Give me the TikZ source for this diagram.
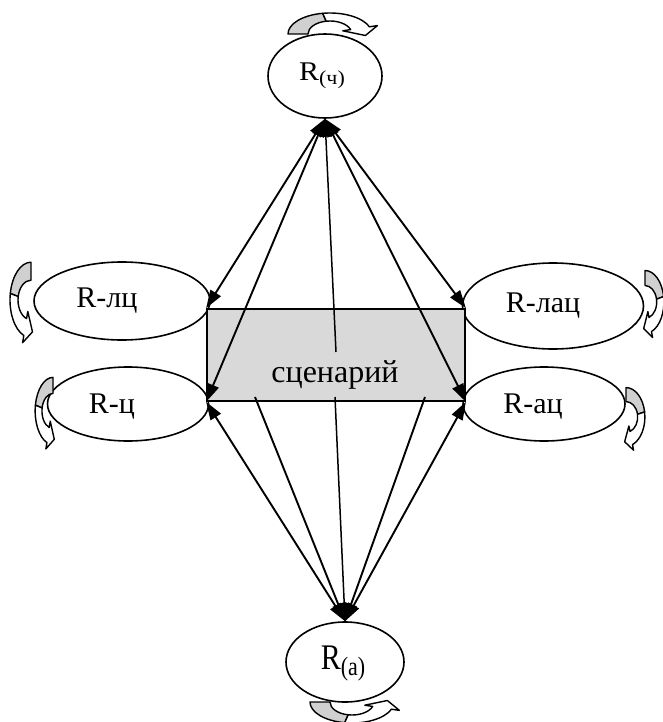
\documentclass[tikz,border=0pt]{standalone}
\usepackage{fontspec}
\usepackage{graphicx}
\setmainfont{Liberation Serif}
\usetikzlibrary{shapes.geometric,arrows.meta}
\definecolor{cg}{RGB}{208,208,208}
\definecolor{sg}{RGB}{217,217,217}
\tikzset{
  curlyarrow/.pic={
    \filldraw[fill=cg, line width=1.4pt, line join=round]
      (-42,0) arc[start angle=180,end angle=100,x radius=42,y radius=21]
      -- ({22*cos(100)},{13*sin(100)})
      arc[start angle=100,end angle=180,x radius=22,y radius=13] -- cycle;
    \filldraw[fill=white, line width=1.4pt, line join=round]
      ({42*cos(100)},{21*sin(100)})
      arc[start angle=100,end angle=20,x radius=42,y radius=21]
      -- (47.4,8.4) -- (35.4,-1.5) -- (12.8,3.2)
      -- ({22*cos(20)},{13*sin(20)})
      arc[start angle=20,end angle=100,x radius=22,y radius=13] -- cycle;
  }
}
\begin{document}
\begin{tikzpicture}[x=1pt,y=1pt,
  ell/.style={draw, ellipse, line width=1.6pt, fill=white, inner sep=0pt},
  scen/.style={draw, rectangle, line width=1.7pt, fill=sg, inner sep=0pt},
  lbl/.style={inner sep=0pt, font=\fontsize{30}{32}\selectfont},
  con/.style={line width=1.9pt},
  dbl/.style={{Triangle[length=18pt,width=12pt]}-{Triangle[length=18pt,width=12pt]}},
  one/.style={-{Triangle[length=18pt,width=12pt]}}
]
\useasboundingbox (0,0) rectangle (662,-722);

% ellipses
\node[ell, minimum width=114pt, minimum height=84pt] (Rch) at (325,-76) {};
\node[ell, minimum width=176pt, minimum height=78pt] (Rlc) at (122,-301) {};
\node[ell, minimum width=161pt, minimum height=74pt] (Rc) at (128,-404) {};
\node[ell, minimum width=181pt, minimum height=86pt] (Rlac) at (553,-306) {};
\node[ell, minimum width=162pt, minimum height=74pt] (Rac) at (544,-404) {};
\node[ell, minimum width=118pt, minimum height=80pt] (Ra) at (345,-662) {};

% scenario box
\node[scen, minimum width=258pt, minimum height=92pt] (sc) at (336,-355) {};
\node[inner sep=0pt, font=\fontsize{32}{34}\selectfont] (sct) at (335,-375) {сценарий};

% labels
\node[lbl] (tch) at (322,-76) {\scalebox{1}[0.9]{R\raisebox{-5pt}{\fontsize{22}{22}\selectfont(ч)}}};
\node[lbl] (tlc) at (107,-301) {R-лц};
\node[lbl] (tc) at (112,-407) {R-ц};
\node[lbl] (tlac) at (543,-306) {R-лац};
\node[lbl] (tac) at (533,-407) {R-ац};
\node[lbl] (ta) at (343,-664) {\scalebox{1}[1.2]{R\raisebox{-5pt}{\fontsize{22}{22}\selectfont(а)}}};

% free ends inside the box
\coordinate (m1) at (336,-352);
\coordinate (b1) at (255,-397);
\coordinate (b2) at (335,-397);
\coordinate (b3) at (425,-397);

% connectors to R(ch)
\draw[con,dbl] (sc.north west) -- (Rch.south);
\draw[con,dbl] (sc.south west) -- (Rch.south);
\draw[con,one,line width=1.5pt] (m1) -- (Rch.south);
\draw[con,dbl] (sc.south east) -- (Rch.south);
\draw[con,dbl] (sc.north east) -- (Rch.south);

% connectors to R(a)
\draw[con,dbl] (sc.south west) -- (Ra.north);
\draw[con,one] (b1) -- (Ra.north);
\draw[con,one,line width=1.5pt] (b2) -- (Ra.north);
\draw[con,one] (b3) -- (Ra.north);
\draw[con,dbl] (sc.south east) -- (Ra.north);

% circular arrows
\path (330,-34) pic {curlyarrow};
\path (352,-702) pic[yscale=-1] {curlyarrow};
\path (31,-300) pic[yscale=-1, rotate=90, xscale=0.9] {curlyarrow};
\path (53,-411) pic[yscale=-1, rotate=90, xscale=0.8, yscale=0.85] {curlyarrow};
\path (645,-302) pic[rotate=-90, xscale=0.75, yscale=0.9] {curlyarrow};
\path (626,-417) pic[rotate=-90, xscale=0.7, yscale=0.9] {curlyarrow};
\end{tikzpicture}
\end{document}
